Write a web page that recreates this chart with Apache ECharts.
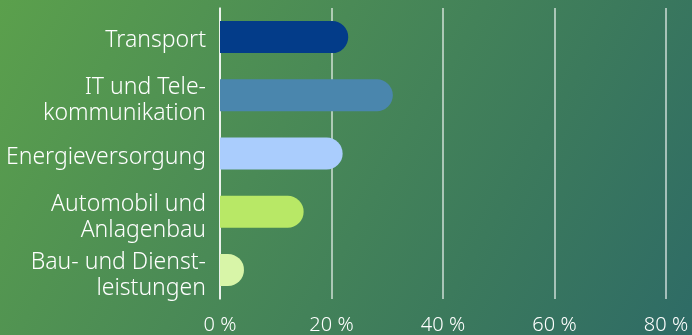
<!DOCTYPE html>
<html><head><meta charset="utf-8">
<script src="https://cdn.jsdelivr.net/npm/echarts@6/dist/echarts.min.js"></script>
<style>
html,body{margin:0;padding:0;}
body{width:692px;height:335px;background:linear-gradient(120deg,#5ba04c 0%,#4a8a56 40%,#3c7a5c 70%,#2e6b66 100%);}
#c{width:692px;height:335px;}
</style></head><body>
<div id="c"></div>
<script>
const categories = ["Transport","IT und Tele-\nkommunikation","Energieversorgung","Automobil und\nAnlagenbau","Bau- und Dienst-\nleistungen"];
const values = [23, 31, 22, 15, 4.3];
const barColors = ["#033c89","#4a86ad","#aacdfd","#b8e866","#d8f5a8"];
const xTicks = [0, 20, 40, 60, 80];

const chart = echarts.init(document.getElementById('c'), null, {renderer:'canvas'});
const font = '"Noto Sans", sans-serif';
const txt = {color: '#ffffff', fontSize: 23, fontFamily: font, fontWeight: 300, lineHeight: 26, align: 'right'};
chart.setOption({
  backgroundColor: 'transparent',
  animation: false,
  grid: {left: 220, right: 26, top: 8, bottom: 36, containLabel: false},
  xAxis: {
    type: 'value', min: xTicks[0], max: xTicks[xTicks.length-1], interval: 20,
    axisLine: {show: false}, axisTick: {show: false},
    splitLine: {show: true, lineStyle: {color: 'rgba(255,255,255,0.75)', width: 1.5}},
    axisLabel: {color: '#ffffff', fontSize: 20, fontFamily: font, fontWeight: 300, margin: 16, formatter: v => v + ' %'}
  },
  yAxis: {
    type: 'category', data: categories, inverse: true,
    axisLine: {show: true, lineStyle: {color: '#ffffff', width: 1.5}},
    axisTick: {show: false},
    axisLabel: {
      interval: 0, hideOverlap: false, margin: 14, align: 'right',
      formatter: v => {
        const lines = v.split('\n');
        const gap = lines.length > 1 ? '{g2| }' : '{g1| }';
        return gap + '\n' + lines.map(l => '{t|' + l + '}').join('\n');
      },
      rich: {
        g1: {fontSize: 1, lineHeight: 7},
        g2: {fontSize: 1, lineHeight: 11},
        t: txt
      }
    }
  },
  series: [{
    type: 'bar', data: values.map((v,i) => ({value: v, itemStyle: {color: barColors[i]}})),
    barWidth: 32,
    itemStyle: {borderRadius: [0,16,16,0]}
  }]
});
</script>
</body></html>
